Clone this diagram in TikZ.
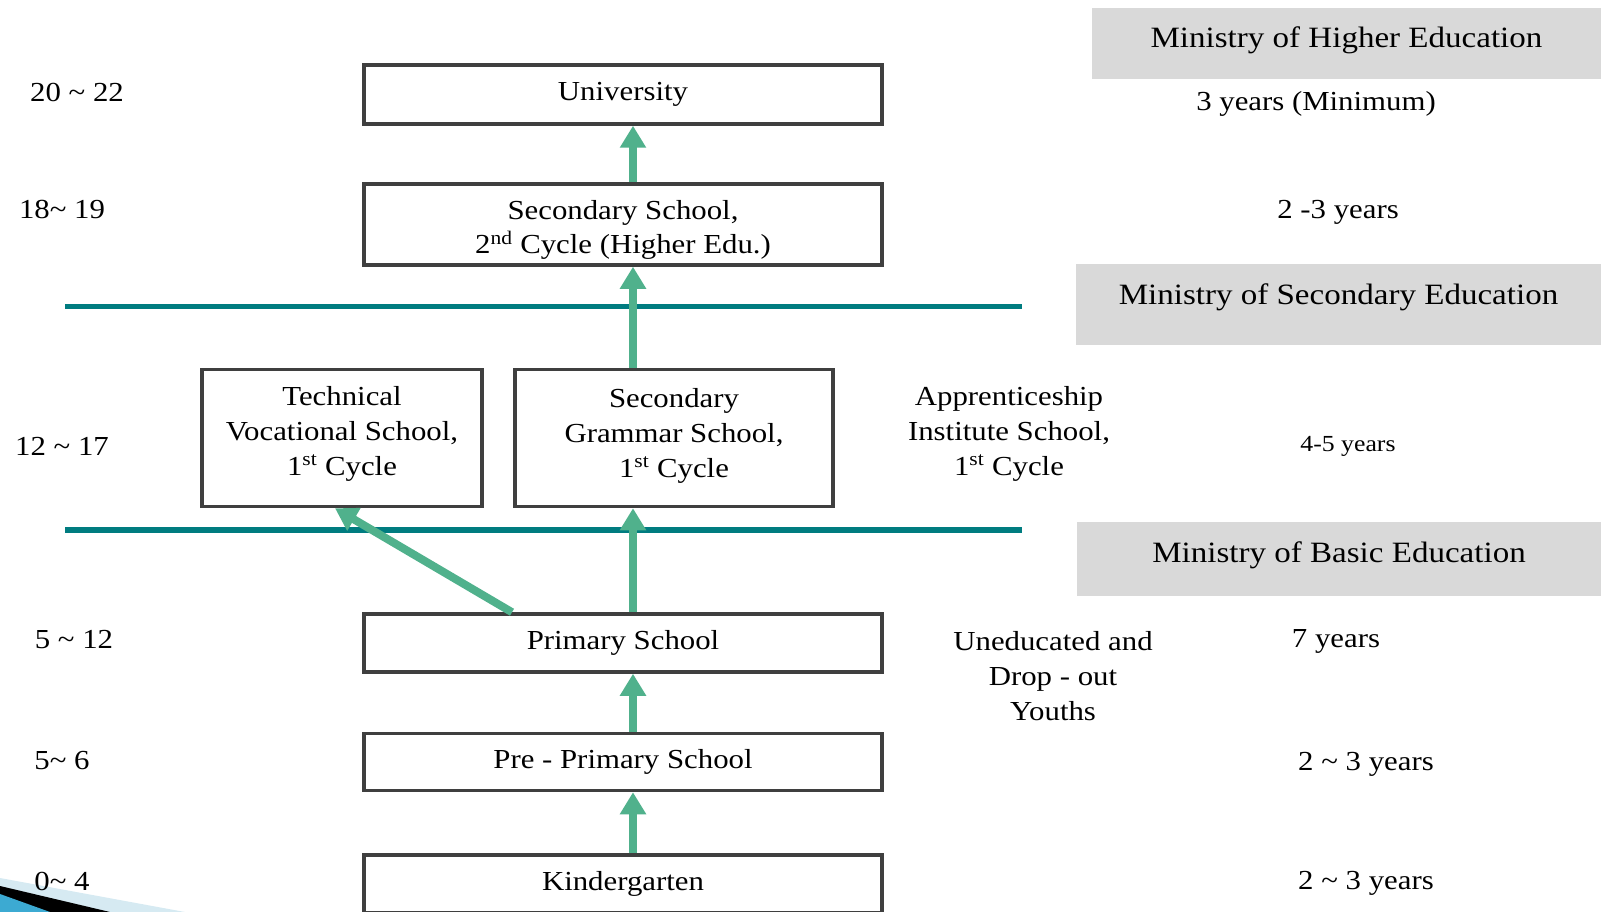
\documentclass[tikz,border=0pt]{standalone}
\usepackage{fontspec}
\setmainfont[FakeStretch=1.12]{Liberation Serif}
\usetikzlibrary{arrows.meta, positioning}
\definecolor{BoxGray}{RGB}{63, 63, 63}
\definecolor{RuleTeal}{RGB}{0, 124, 128}
\definecolor{StepGreen}{RGB}{80, 177, 140}
\definecolor{MinistryGray}{RGB}{217, 217, 217}
\definecolor{SwooshLight}{RGB}{214, 234, 242}
\definecolor{SwooshBlue}{RGB}{60, 170, 210}

\begin{document}
\begin{tikzpicture}[x=1pt, y=-1pt,
    school/.style={rectangle, draw=BoxGray, fill=white, line width=3.5pt, align=center, inner sep=0pt, font=\fontsize{27.5}{35}\selectfont},
    note/.style={align=center, inner sep=0pt, font=\fontsize{27.5}{35}\selectfont},
    ministry/.style={rectangle, fill=MinistryGray, inner sep=0pt, text height=20pt, font=\fontsize{29.5}{35}\selectfont},
    divider/.style={draw=RuleTeal, line width=5.5pt},
    arrow/.style={draw=StepGreen, line width=8pt, -{Triangle[width=25pt, length=22pt]}}
]
\useasboundingbox (0,0) rectangle (1601,912);

\fill[SwooshLight] (0,878) -- (185,912) -- (0,912) -- cycle;
\fill[black] (0,886) -- (110,912) -- (0,912) -- cycle;
\fill[SwooshBlue] (0,894) -- (50,912) -- (0,912) -- cycle;

\node[ministry, minimum width=509pt, minimum height=71pt, text depth=11pt] (mhigher) at (1346.5,43.5) {Ministry of Higher Education};
\node[ministry, minimum width=525pt, minimum height=81pt, text depth=21pt] (msecond) at (1338.5,304.5) {Ministry of Secondary Education};
\node[ministry, minimum width=524pt, minimum height=74pt, text depth=14pt] (mbasic) at (1339,559) {Ministry of Basic Education};

\draw[divider] (65,306.5) -- (1022,306.5);
\draw[divider] (65,530) -- (1022,530);

\node[school, minimum width=518pt, minimum height=59pt] (univ) at (623,94.5) {University};
\node[school, minimum width=518pt, minimum height=81pt, text height=65pt, text depth=6pt] (sec2) at (623,224.5) {Secondary School,\\2\textsuperscript{nd} Cycle (Higher Edu.)};
\node[school, minimum width=280pt, minimum height=137pt, text height=80pt, text depth=6pt] (tech) at (342,438) {Technical\\Vocational School,\\1\textsuperscript{st} Cycle};
\node[school, minimum width=318pt, minimum height=137pt, text height=84pt, text depth=6pt] (gram) at (674,438) {Secondary\\Grammar School,\\1\textsuperscript{st} Cycle};
\node[school, minimum width=518pt, minimum height=58pt] (prim) at (623,643) {Primary School};
\node[school, minimum width=518pt, minimum height=57pt] (pre) at (623,762) {Pre - Primary School};
\node[school, minimum width=518pt, minimum height=58pt] (kinder) at (623,884) {Kindergarten};

\node[note, text height=94pt, text depth=6pt] (appr) at (1009,431) {Apprenticeship\\Institute School,\\1\textsuperscript{st} Cycle};
\node[note] (drop) at (1053,676) {Uneducated and\\Drop - out\\Youths};

\node[note] (age1) at (77,92) {20 \textasciitilde{} 22};
\node[note] (age2) at (62,209) {18\textasciitilde{} 19};
\node[note] (age3) at (62,446) {12 \textasciitilde{} 17};
\node[note] (age4) at (74,640) {5 \textasciitilde{} 12};
\node[note] (age5) at (62,761) {5\textasciitilde{} 6};
\node[note] (age6) at (62,881) {0\textasciitilde{} 4};

\node[note] (dur1) at (1316,104) {3 years (Minimum)};
\node[note] (dur2) at (1338,212) {2 -3 years};
\node[note, font=\fontsize{23}{28}\selectfont] (dur3) at (1348,446) {4-5 years};
\node[note] (dur4) at (1336,641) {7 years};
\node[note] (dur5) at (1366,764) {2 \textasciitilde{} 3 years};
\node[note] (dur6) at (1366,883) {2 \textasciitilde{} 3 years};

\draw[arrow] ([xshift=10pt]sec2.north) -- ([xshift=10pt]univ.south);
\draw[arrow] ([xshift=-41pt]gram.north) -- ([xshift=10pt]sec2.south);
\draw[arrow] ([xshift=10pt]prim.north) -- ([xshift=-41pt]gram.south);
\draw[arrow] ([xshift=-111pt]prim.north) -- ([xshift=-7pt]tech.south);
\draw[arrow] ([xshift=10pt]pre.north) -- ([xshift=10pt]prim.south);
\draw[arrow] ([xshift=10pt]kinder.north) -- ([xshift=10pt]pre.south);
\end{tikzpicture}
\end{document}
